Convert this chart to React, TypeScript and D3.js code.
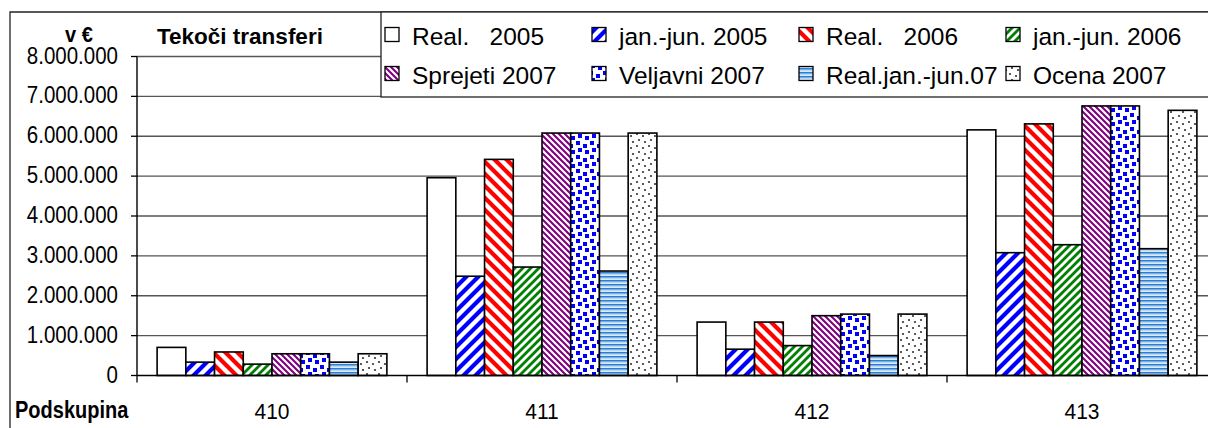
import * as d3 from "d3";

const categories = ["410", "411", "412", "413"];

const seriesNames = [
  "Real.   2005",
  "jan.-jun. 2005",
  "Real.   2006",
  "jan.-jun. 2006",
  "Sprejeti 2007",
  "Veljavni 2007",
  "Real.jan.-jun.07",
  "Ocena 2007",
];

// values per series, one per category (410, 411, 412, 413)
const real2005 = [705000, 4960000, 1340000, 6160000];
const janJun2005 = [335000, 2490000, 660000, 3080000];
const real2006 = [590000, 5420000, 1340000, 6310000];
const janJun2006 = [285000, 2720000, 750000, 3280000];
const sprejeti2007 = [545000, 6080000, 1500000, 6760000];
const veljavni2007 = [545000, 6080000, 1540000, 6760000];
const realJanJun07 = [335000, 2620000, 500000, 3180000];
const ocena2007 = [545000, 6080000, 1540000, 6650000];

const seriesValues = [
  real2005,
  janJun2005,
  real2006,
  janJun2006,
  sprejeti2007,
  veljavni2007,
  realJanJun07,
  ocena2007,
];

const yTicks = [0, 1000000, 2000000, 3000000, 4000000, 5000000, 6000000, 7000000, 8000000];

const fills = [
  "#ffffff",
  "url(#pBlueUp)",
  "url(#pRedDown)",
  "url(#pGreenUp)",
  "url(#pPurpleDown)",
  "url(#pBlueDots)",
  "url(#pHStripe)",
  "url(#pGrayDots)",
];

const FONT = "'Liberation Sans', Arial, sans-serif";

const locale = d3.formatLocale({
  decimal: ",",
  thousands: ".",
  grouping: [3],
  currency: ["", " €"],
});
const fmt = locale.format(",");

export default function App() {
  const W = 1208;
  const H = 428;
  const left = 137;
  const catW = 270;
  const top = 56.5;
  const zero = 375.5;

  const y = d3.scaleLinear().domain([0, 8000000]).range([zero, top]);
  const x0 = d3
    .scaleBand<string>()
    .domain(categories)
    .range([left, left + catW * categories.length])
    .padding(0);

  // Excel-like gap width of 140% of one bar
  const barW = catW / (seriesNames.length + 1.4);
  const gap = (catW - barW * seriesNames.length) / 2;
  const x1 = d3
    .scaleBand<string>()
    .domain(seriesNames)
    .range([gap, catW - gap])
    .padding(0);

  const boundaries = d3.range(categories.length + 1).map((i) => left + i * catW);

  const stripe = (id: string, size: number, color: string, dir: "up" | "down", sw: number) => {
    const d =
      dir === "up"
        ? `M0,${size} L${size},0 M${-size / 2},${size / 2} L${size / 2},${-size / 2} M${size / 2},${size * 1.5} L${size * 1.5},${size / 2}`
        : `M0,0 L${size},${size} M${-size / 2},${size / 2} L${size / 2},${size * 1.5} M${size / 2},${-size / 2} L${size * 1.5},${size / 2}`;
    return (
      <pattern id={id} patternUnits="userSpaceOnUse" width={size} height={size}>
        <rect width={size} height={size} fill="#fff" />
        <path d={d} stroke={color} strokeWidth={sw} />
      </pattern>
    );
  };

  return (
    <svg
      width={W}
      height={H}
      style={{ position: "absolute", left: 0, top: 0, background: "#fff" }}
      fontFamily={FONT}
    >
      <defs>
        {stripe("pBlueUp", 12, "#0000ff", "up", 4.2)}
        {stripe("pRedDown", 12, "#ff0000", "down", 4.2)}
        {stripe("pGreenUp", 8, "#008000", "up", 2.8)}
        {stripe("pPurpleDown", 6, "#800080", "down", 2.1)}
        <pattern id="pBlueDots" patternUnits="userSpaceOnUse" width={14} height={14}>
          <rect width={14} height={14} fill="#fff" />
          <rect x={1} y={1} width={4} height={4} fill="#0000ff" />
          <rect x={8} y={4} width={4} height={4} fill="#0000ff" />
          <rect x={3} y={8} width={4} height={4} fill="#0000ff" />
          <rect x={10} y={10} width={4} height={4} fill="#0000ff" />
        </pattern>
        <pattern id="pHStripe" patternUnits="userSpaceOnUse" width={8} height={4}>
          <rect width={8} height={4} fill="#eaf3fc" />
          <rect y={0} width={8} height={1.6} fill="#2a7fd4" />
          <rect y={2.4} width={8} height={0.8} fill="#9cc7ef" />
        </pattern>
        <pattern id="pGrayDots" patternUnits="userSpaceOnUse" width={12} height={12}>
          <rect width={12} height={12} fill="#fff" />
          <circle cx={2} cy={2} r={1.1} fill="#333" />
          <circle cx={8} cy={4} r={1.1} fill="#333" />
          <circle cx={4} cy={8} r={1.1} fill="#333" />
          <circle cx={10} cy={10} r={1.1} fill="#333" />
        </pattern>
      </defs>

      {/* outer chart border */}
      <path d={`M10,${H + 2} L10,12 L${W + 2},12`} fill="none" stroke="#222" strokeWidth={1.3} />

      {/* gridlines */}
      {yTicks.slice(1).map((t) => (
        <line key={t} x1={left} x2={W + 2} y1={y(t)} y2={y(t)} stroke="#555" strokeWidth={1.3} />
      ))}

      {/* bars */}
      {categories.map((c, ci) => (
        <g key={c} transform={`translate(${x0(c)},0)`}>
          {seriesNames.map((s, si) => {
            const v = seriesValues[si][ci];
            return (
              <rect
                key={s}
                x={x1(s)}
                y={y(v)}
                width={x1.bandwidth()}
                height={zero - y(v)}
                fill={fills[si]}
                stroke="#000"
                strokeWidth={1.6}
              />
            );
          })}
        </g>
      ))}

      {/* axes */}
      <line x1={left} x2={left} y1={top} y2={zero} stroke="#000" strokeWidth={1.4} />
      <line x1={left} x2={W + 2} y1={zero} y2={zero} stroke="#000" strokeWidth={1.4} />
      {yTicks.map((t) => (
        <g key={t}>
          <line x1={left - 6} x2={left} y1={y(t)} y2={y(t)} stroke="#000" strokeWidth={1.3} />
          <text
            transform={`translate(118,${y(t) + 7}) scale(1,1.18)`}
            textAnchor="end"
            fontSize={20.5}
            fill="#000"
          >
            {fmt(t)}
          </text>
        </g>
      ))}
      {boundaries.map((b) => (
        <line key={b} x1={b} x2={b} y1={zero} y2={zero + 7} stroke="#000" strokeWidth={1.3} />
      ))}
      {categories.map((c) => (
        <text
          key={c}
          transform={`translate(${(x0(c) ?? 0) + x0.bandwidth() / 2},419) scale(1,1.08)`}
          textAnchor="middle"
          fontSize={21}
          fill="#000"
        >
          {c}
        </text>
      ))}

      {/* labels */}
      <text transform="translate(15,418) scale(1,1.15)" fontSize={20} fontWeight="bold">
        Podskupina
      </text>
      <text transform="translate(65,41.5) scale(1,1.08)" fontSize={20} fontWeight="bold">
        v €
      </text>
      <text x={157} y={43.5} fontSize={22.5} fontWeight="bold">
        Tekoči transferi
      </text>

      {/* legend */}
      <rect x={381} y={12} width={W} height={85} fill="#fff" stroke="#222" strokeWidth={1.3} />
      {seriesNames.map((s, i) => {
        const col = i % 4;
        const row = Math.floor(i / 4);
        const tx = 412 + col * 207;
        const by = 44.5 + row * 39;
        return (
          <g key={s}>
            <rect
              x={tx - 27}
              y={by - 17}
              width={14}
              height={14}
              fill={fills[i]}
              stroke="#000"
              strokeWidth={1.3}
            />
            <text x={tx} y={by} fontSize={24.5} fill="#000" style={{ whiteSpace: "pre" }}>
              {s}
            </text>
          </g>
        );
      })}
    </svg>
  );
}
